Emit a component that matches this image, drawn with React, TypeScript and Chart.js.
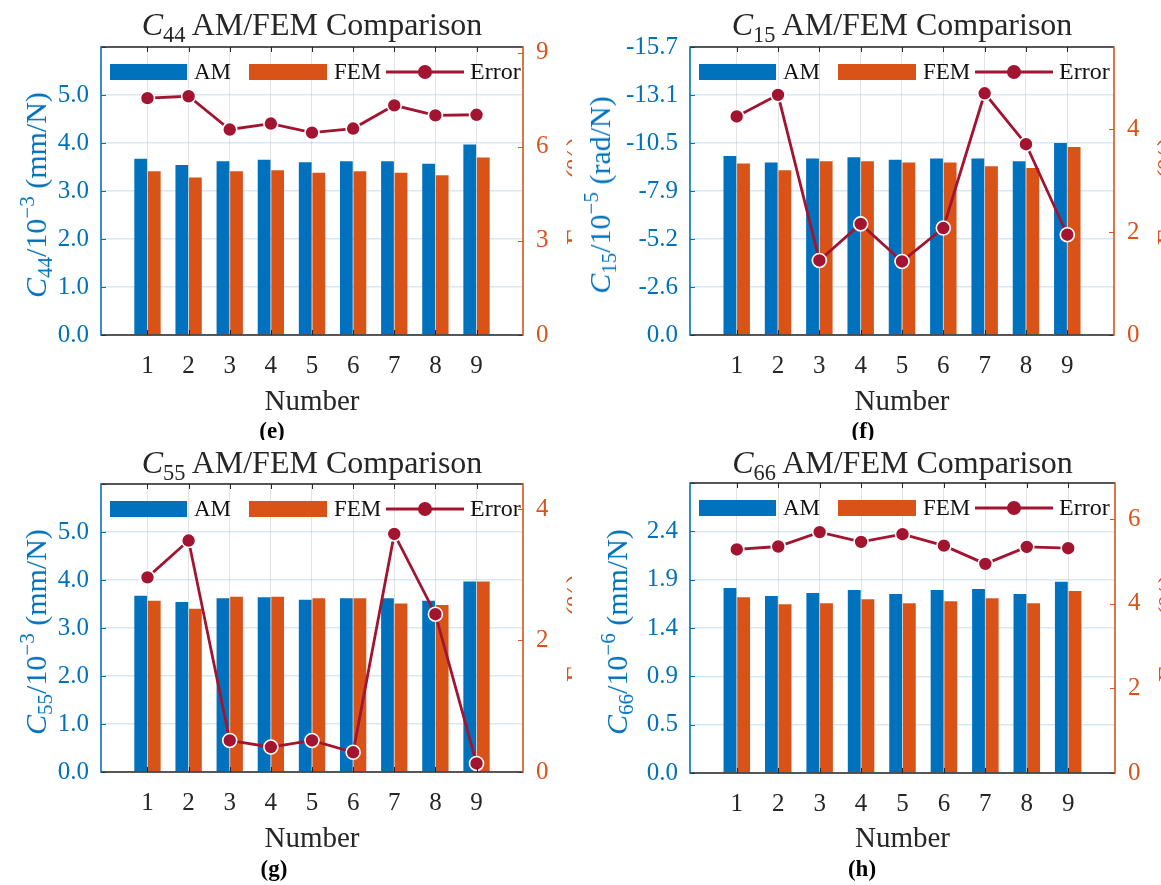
import React, { useEffect, useRef } from "react";
import { Chart, registerables } from "chart.js";

Chart.register(...registerables);

// ---------------- DATA ----------------
const NUMBERS = [1, 2, 3, 4, 5, 6, 7, 8, 9];

const C44_AM = [3.67, 3.54, 3.62, 3.65, 3.6, 3.62, 3.62, 3.57, 3.97];
const C44_FEM = [3.41, 3.28, 3.41, 3.43, 3.38, 3.41, 3.38, 3.33, 3.7];
const C44_ERROR = [7.55, 7.61, 6.55, 6.74, 6.45, 6.58, 7.32, 7.0, 7.02];
const C44_LEFT_TICKS = [0, 1, 2, 3, 4, 5, 6];
const C44_LEFT_LABELS = ["0.0", "1.0", "2.0", "3.0", "4.0", "5.0", ""];
const C44_RIGHT_TICKS = [0, 3, 6, 9];
const C44_RIGHT_MAX = 9.18;

const C15_AM = [9.76, 9.4, 9.62, 9.69, 9.55, 9.62, 9.62, 9.47, 10.47];
const C15_FEM = [9.35, 8.98, 9.47, 9.47, 9.4, 9.4, 9.2, 9.11, 10.25];
const C15_ERROR = [4.25, 4.67, 1.45, 2.16, 1.43, 2.08, 4.7, 3.71, 1.95];
const C15_LEFT_TICKS = [0, 2.6167, 5.2333, 7.85, 10.4667, 13.0833, 15.7];
const C15_LEFT_LABELS = ["0.0", "-2.6", "-5.2", "-7.9", "-10.5", "-13.1", "-15.7"];
const C15_RIGHT_TICKS = [0, 2, 4];
const C15_RIGHT_MAX = 5.6;

const C55_AM = [3.67, 3.54, 3.62, 3.64, 3.59, 3.62, 3.62, 3.57, 3.97];
const C55_FEM = [3.57, 3.4, 3.65, 3.65, 3.62, 3.62, 3.51, 3.48, 3.97];
const C55_ERROR = [2.96, 3.52, 0.48, 0.38, 0.48, 0.3, 3.62, 2.4, 0.13];
const C55_LEFT_TICKS = [0, 1, 2, 3, 4, 5, 6];
const C55_LEFT_LABELS = ["0.0", "1.0", "2.0", "3.0", "4.0", "5.0", ""];
const C55_RIGHT_TICKS = [0, 2, 4];
const C55_RIGHT_MAX = 4.38;

const C66_AM = [1.8, 1.72, 1.75, 1.78, 1.74, 1.78, 1.79, 1.74, 1.86];
const C66_FEM = [1.71, 1.64, 1.65, 1.69, 1.65, 1.67, 1.7, 1.65, 1.77];
const C66_ERROR = [5.28, 5.35, 5.69, 5.46, 5.64, 5.37, 4.94, 5.34, 5.31];
const C66_LEFT_TICKS = [0, 0.47, 0.94, 1.41, 1.88, 2.35, 2.82];
const C66_LEFT_LABELS = ["0.0", "0.5", "0.9", "1.4", "1.9", "2.4", ""];
const C66_RIGHT_TICKS = [0, 2, 4, 6];
const C66_RIGHT_MAX = 6.85;

const X_MIN = -0.13;
const X_MAX = 10.13;

// ---------------- STYLE ----------------
const BLUE = "#0072BD";
const ORANGE = "#D95319";
const RED = "#A2142F";
const DARK = "#262626";
const SERIF = '"Liberation Serif", "DejaVu Serif", serif';

type PanelCfg = {
  key: string;
  x: number;
  y: number;
  w: number;
  h: number;
  plot: { l: number; t: number; r: number; b: number };
  sub: string;
  unitExp: string;
  unit: string;
  am: number[];
  fem: number[];
  err: number[];
  leftTicks: number[];
  leftLabels: string[];
  rightTicks: number[];
  rightMax: number;
  yLabelX: number;
  titleY: number;
  numberY: number;
  captionY: number;
  captionX: number;
  caption: string;
  clipX: number;
};

const PANELS: PanelCfg[] = [
  {
    key: "e", x: 0, y: 0, w: 580, h: 440,
    plot: { l: 101, t: 47, r: 523, b: 335 },
    sub: "44", unitExp: "−3", unit: "(mm/N)",
    am: C44_AM, fem: C44_FEM, err: C44_ERROR,
    leftTicks: C44_LEFT_TICKS, leftLabels: C44_LEFT_LABELS,
    rightTicks: C44_RIGHT_TICKS, rightMax: C44_RIGHT_MAX,
    yLabelX: 36, titleY: 24, numberY: 400, captionY: 430, captionX: 272, caption: "e", clipX: 572,
  },
  {
    key: "f", x: 580, y: 0, w: 581, h: 440,
    plot: { l: 110, t: 47, r: 534, b: 335 },
    sub: "15", unitExp: "−5", unit: "(rad/N)",
    am: C15_AM, fem: C15_FEM, err: C15_ERROR,
    leftTicks: C15_LEFT_TICKS, leftLabels: C15_LEFT_LABELS,
    rightTicks: C15_RIGHT_TICKS, rightMax: C15_RIGHT_MAX,
    yLabelX: 20, titleY: 24, numberY: 400, captionY: 430, captionX: 283, caption: "f", clipX: 581,
  },
  {
    key: "g", x: 0, y: 440, w: 580, h: 445,
    plot: { l: 101, t: 44, r: 523, b: 332 },
    sub: "55", unitExp: "−3", unit: "(mm/N)",
    am: C55_AM, fem: C55_FEM, err: C55_ERROR,
    leftTicks: C55_LEFT_TICKS, leftLabels: C55_LEFT_LABELS,
    rightTicks: C55_RIGHT_TICKS, rightMax: C55_RIGHT_MAX,
    yLabelX: 36, titleY: 22, numberY: 397, captionY: 428, captionX: 274, caption: "g", clipX: 572,
  },
  {
    key: "h", x: 580, y: 440, w: 581, h: 445,
    plot: { l: 110, t: 43, r: 535, b: 333 },
    sub: "66", unitExp: "−6", unit: "(mm/N)",
    am: C66_AM, fem: C66_FEM, err: C66_ERROR,
    leftTicks: C66_LEFT_TICKS, leftLabels: C66_LEFT_LABELS,
    rightTicks: C66_RIGHT_TICKS, rightMax: C66_RIGHT_MAX,
    yLabelX: 37, titleY: 22, numberY: 397, captionY: 428, captionX: 282, caption: "h", clipX: 581,
  },
];

// ---------------- PLUGIN: frame, inward ticks, in-plot legend ----------------
const framePlugin = {
  id: "matlabFrame",
  afterDraw(chart: any) {
    const { ctx, chartArea: a, scales } = chart;
    ctx.save();
    ctx.lineWidth = 1;
    const tl = 5;
    ctx.strokeStyle = DARK;
    scales.x.ticks.forEach((t: any) => {
      const px = Math.round(scales.x.getPixelForValue(t.value)) + 0.5;
      ctx.beginPath();
      ctx.moveTo(px, a.bottom); ctx.lineTo(px, a.bottom - tl);
      ctx.moveTo(px, a.top); ctx.lineTo(px, a.top + tl);
      ctx.stroke();
    });
    ctx.strokeStyle = BLUE;
    scales.y.ticks.forEach((t: any) => {
      const py = Math.round(scales.y.getPixelForValue(t.value)) + 0.5;
      ctx.beginPath(); ctx.moveTo(a.left, py); ctx.lineTo(a.left + tl, py); ctx.stroke();
    });
    ctx.strokeStyle = ORANGE;
    scales.y1.ticks.forEach((t: any) => {
      const py = Math.round(scales.y1.getPixelForValue(t.value)) + 0.5;
      ctx.beginPath(); ctx.moveTo(a.right, py); ctx.lineTo(a.right - tl, py); ctx.stroke();
    });
    ctx.lineWidth = 1.6;
    ctx.strokeStyle = DARK;
    ctx.beginPath();
    ctx.moveTo(a.left, a.top); ctx.lineTo(a.right, a.top);
    ctx.moveTo(a.left, a.bottom); ctx.lineTo(a.right, a.bottom);
    ctx.stroke();
    ctx.strokeStyle = BLUE;
    ctx.beginPath(); ctx.moveTo(a.left, a.top - 0.8); ctx.lineTo(a.left, a.bottom + 0.8); ctx.stroke();
    ctx.strokeStyle = ORANGE;
    ctx.beginPath(); ctx.moveTo(a.right, a.top - 0.8); ctx.lineTo(a.right, a.bottom + 0.8); ctx.stroke();

    // legend inside plot
    ctx.beginPath();
    ctx.rect(a.left, a.top, a.right - a.left - 1, a.bottom - a.top);
    ctx.clip();
    const ly = a.top + 25;
    const x0 = a.left;
    ctx.font = `23px ${SERIF}`;
    ctx.textBaseline = "middle";
    ctx.textAlign = "left";
    ctx.fillStyle = BLUE;
    ctx.fillRect(x0 + 9, ly - 8, 77, 16);
    ctx.fillStyle = "#111";
    ctx.fillText("AM", x0 + 93, ly + 1);
    ctx.fillStyle = ORANGE;
    ctx.fillRect(x0 + 148, ly - 8, 78, 16);
    ctx.fillStyle = "#111";
    ctx.fillText("FEM", x0 + 233, ly + 1);
    ctx.strokeStyle = RED;
    ctx.lineWidth = 2.8;
    ctx.beginPath(); ctx.moveTo(x0 + 285, ly); ctx.lineTo(x0 + 363, ly); ctx.stroke();
    ctx.fillStyle = RED;
    ctx.beginPath(); ctx.arc(x0 + 324, ly, 7, 0, Math.PI * 2); ctx.fill();
    ctx.fillStyle = "#111";
    ctx.font = `24px ${SERIF}`;
    ctx.fillText("Error", x0 + 369, ly + 1);
    ctx.restore();
  },
};

function buildConfig(p: PanelCfg): any {
  const fontTick = { family: SERIF, size: 25 };
  const pts = (arr: number[]) => arr.map((v, i) => ({ x: NUMBERS[i], y: v }));
  return {
    type: "bar",
    data: {
      datasets: [
        {
          type: "line",
          label: "Error",
          data: pts(p.err),
          yAxisID: "y1",
          xAxisID: "x",
          borderColor: RED,
          backgroundColor: RED,
          borderWidth: 2.8,
          pointRadius: 7,
          pointBackgroundColor: RED,
          pointBorderColor: "#ffffff",
          pointBorderWidth: 1.6,
          tension: 0,
          order: 0,
        },
        {
          label: "AM",
          data: pts(p.am),
          backgroundColor: BLUE,
          yAxisID: "y",
          xAxisID: "x",
          categoryPercentage: 0.66,
          barPercentage: 0.94,
          order: 1,
        },
        {
          label: "FEM",
          data: pts(p.fem),
          backgroundColor: ORANGE,
          yAxisID: "y",
          xAxisID: "x",
          categoryPercentage: 0.66,
          barPercentage: 0.94,
          order: 1,
        },
      ],
    },
    options: {
      animation: false,
      responsive: false,
      maintainAspectRatio: false,
      events: [],
      layout: { padding: { top: p.plot.t, left: 0, right: 0, bottom: 0 } },
      plugins: {
        legend: { display: false },
        tooltip: { enabled: false },
        title: { display: false },
      },
      scales: {
        x: {
          type: "linear",
          position: "bottom",
          offset: false,
          min: X_MIN,
          max: X_MAX,
          afterBuildTicks: (s: any) => {
            s.ticks = NUMBERS.map((v) => ({ value: v }));
          },
          afterFit: (s: any) => {
            s.height = p.h - p.plot.b;
          },
          ticks: {
            color: DARK,
            font: fontTick,
            padding: 16,
            autoSkip: false,
            maxRotation: 0,
            callback: (v: any) => String(v),
          },
          grid: { offset: false, color: "rgba(38,38,38,0.13)", drawTicks: false, lineWidth: 1 },
          border: { display: false },
        },
        y: {
          position: "left",
          min: 0,
          max: p.leftTicks[p.leftTicks.length - 1],
          afterBuildTicks: (s: any) => {
            s.ticks = p.leftTicks.map((v) => ({ value: v }));
          },
          afterFit: (s: any) => {
            s.width = p.plot.l;
          },
          ticks: {
            color: BLUE,
            font: fontTick,
            padding: 12,
            callback: (_v: any, i: number) => p.leftLabels[i],
          },
          grid: { color: "rgba(0,114,189,0.16)", drawTicks: false, lineWidth: 1.5 },
          border: { display: false },
        },
        y1: {
          position: "right",
          min: 0,
          max: p.rightMax,
          afterBuildTicks: (s: any) => {
            s.ticks = p.rightTicks.map((v) => ({ value: v }));
          },
          afterFit: (s: any) => {
            s.width = p.w - p.plot.r;
          },
          ticks: {
            color: ORANGE,
            font: fontTick,
            padding: 13,
            callback: (v: any) => String(v),
          },
          grid: { display: false, drawTicks: false },
          border: { display: false },
        },
      },
    },
    plugins: [framePlugin],
  };
}

const subStyle: React.CSSProperties = { fontSize: "0.7em", verticalAlign: "-0.3em", lineHeight: 0 };
const supStyle: React.CSSProperties = { fontSize: "0.7em", verticalAlign: "0.55em", lineHeight: 0 };

function Panel({ cfg }: { cfg: PanelCfg }) {
  const ref = useRef<HTMLCanvasElement>(null);
  useEffect(() => {
    const chart = new Chart(ref.current as HTMLCanvasElement, buildConfig(cfg));
    return () => chart.destroy();
  }, [cfg]);
  const cx = (cfg.plot.l + cfg.plot.r) / 2;
  const cy = (cfg.plot.t + cfg.plot.b) / 2;
  const center: React.CSSProperties = {
    position: "absolute",
    whiteSpace: "nowrap",
    lineHeight: 1,
    fontFamily: SERIF,
  };
  const clipLeft = cfg.plot.r + 2;
  return (
    <div
      style={{
        position: "absolute",
        left: cfg.x,
        top: cfg.y,
        width: cfg.w,
        height: cfg.h,
        overflow: "hidden",
      }}
    >
      <canvas
        ref={ref}
        width={cfg.w}
        height={cfg.h}
        style={{ position: "absolute", left: 0, top: 0, width: cfg.w, height: cfg.h }}
      />
      <div
        style={{
          ...center,
          left: cx,
          top: cfg.titleY,
          transform: "translate(-50%, -50%)",
          fontSize: 32,
          color: DARK,
        }}
      >
        <i>C</i>
        <span style={subStyle}>{cfg.sub}</span> AM/FEM Comparison
      </div>
      <div
        style={{
          ...center,
          left: cfg.yLabelX,
          top: cy + 4,
          transform: "translate(-50%, -50%) rotate(-90deg)",
          fontSize: 30,
          color: BLUE,
        }}
      >
        <i>C</i>
        <span style={subStyle}>{cfg.sub}</span>/10
        <span style={supStyle}>{cfg.unitExp}</span>
        {"\u00a0" + cfg.unit}
      </div>
      <div
        style={{
          position: "absolute",
          left: clipLeft,
          top: 0,
          width: cfg.clipX - clipLeft,
          height: cfg.h,
          overflow: "hidden",
        }}
      >
        <div
          style={{
            ...center,
            left: cfg.plot.r + 53 - clipLeft,
            top: cy,
            lineHeight: "28px",
            transform: "translate(-50%, -50%) rotate(-90deg)",
            fontSize: 28,
            color: ORANGE,
          }}
        >
          Error (%)
        </div>
      </div>
      <div
        style={{
          ...center,
          left: cx,
          top: cfg.numberY,
          transform: "translate(-50%, -50%)",
          fontSize: 29,
          color: DARK,
        }}
      >
        Number
      </div>
      <div
        style={{
          ...center,
          left: cfg.captionX,
          top: cfg.captionY,
          transform: "translate(-50%, -50%)",
          fontSize: 23,
          fontWeight: "bold",
          color: "#000",
        }}
      >
        ({cfg.caption})
      </div>
    </div>
  );
}

export default function App() {
  return (
    <div
      style={{
        position: "absolute",
        left: 0,
        top: 0,
        width: 1161,
        height: 885,
        background: "#ffffff",
        overflow: "hidden",
      }}
    >
      {PANELS.map((p) => (
        <Panel key={p.key} cfg={p} />
      ))}
    </div>
  );
}
